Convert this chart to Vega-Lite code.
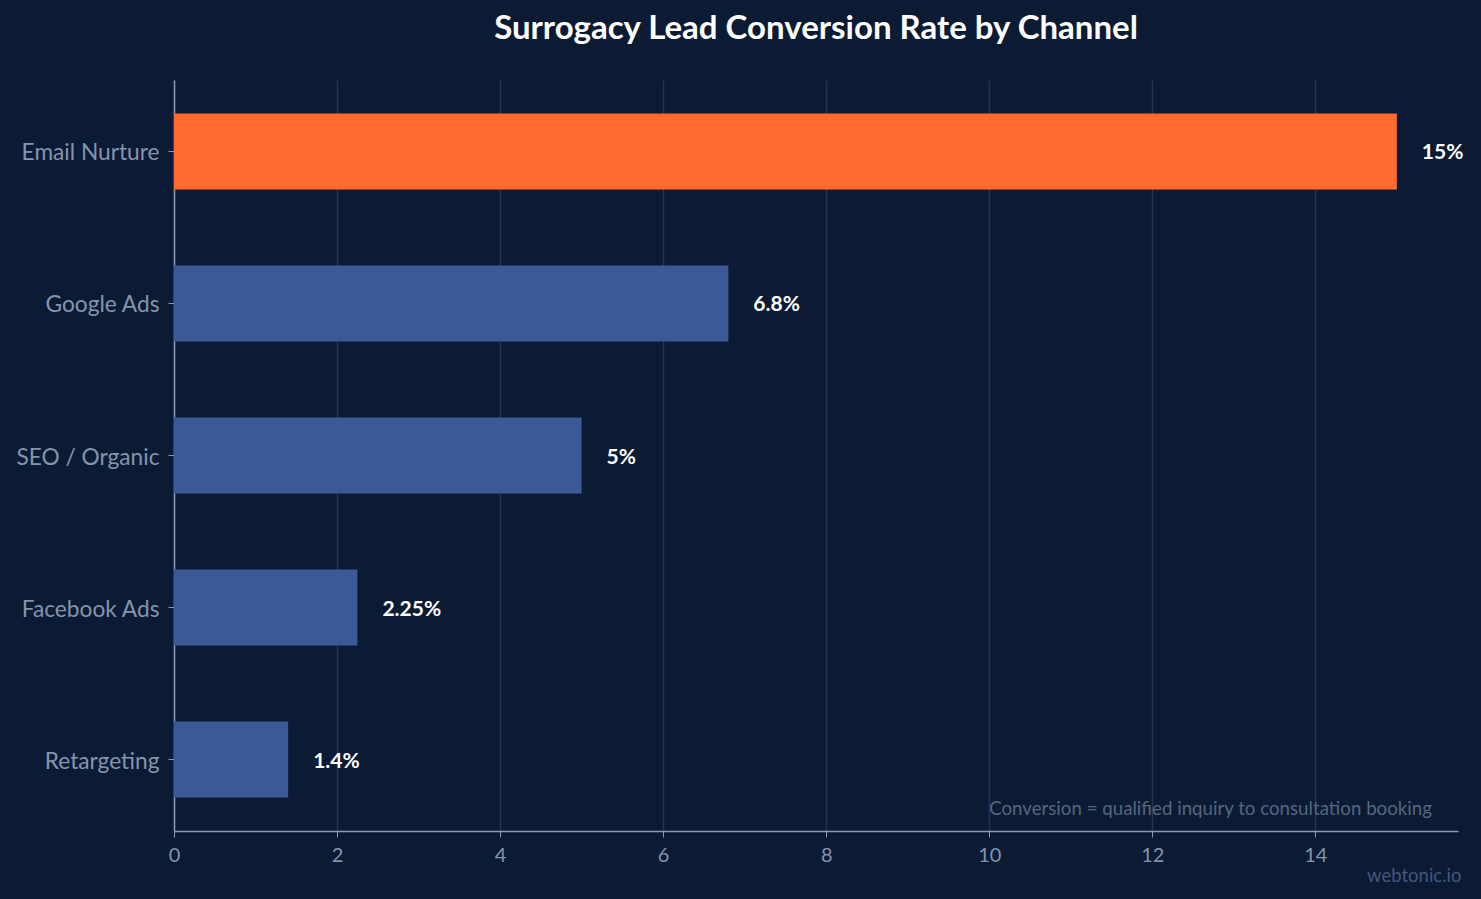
{
  "$schema": "https://vega.github.io/schema/vega-lite/v6.json",
  "width": 1284,
  "height": 751,
  "autosize": {"type": "none"},
  "padding": {"left": 174, "top": 80, "right": 23, "bottom": 68},
  "background": "#0c1b34",
  "config": {
    "font": "Lato",
    "view": {"stroke": null},
    "axis": {"labelFont": "Lato", "titleFont": "Lato"}
  },
  "title": {
    "text": "Surrogacy Lead Conversion Rate by Channel",
    "font": "Lato",
    "fontSize": 33,
    "fontWeight": "bold",
    "color": "#ffffff",
    "anchor": "middle",
    "offset": 34
  },
  "data": {
    "values": [
      {"channel": "Email Nurture", "rate": 15, "label": "15%"},
      {"channel": "Google Ads", "rate": 6.8, "label": "6.8%"},
      {"channel": "SEO / Organic", "rate": 5, "label": "5%"},
      {"channel": "Facebook Ads", "rate": 2.25, "label": "2.25%"},
      {"channel": "Retargeting", "rate": 1.4, "label": "1.4%"}
    ]
  },
  "encoding": {
    "y": {
      "field": "channel",
      "type": "nominal",
      "sort": null,
      "scale": {"paddingInner": 0.5, "paddingOuter": 0.22},
      "axis": {
        "title": null,
        "labelFontSize": 22.7,
        "labelColor": "#8494ad",
        "labelPadding": 9,
        "labelOffset": 2,
        "domainColor": "#8a9ab2",
        "domainWidth": 1.5,
        "tickColor": "#8a9ab2",
        "tickSize": 6,
        "grid": false
      }
    },
    "x": {
      "field": "rate",
      "type": "quantitative",
      "scale": {"domain": [0, 15.75], "nice": false},
      "axis": {
        "title": "webtonic.io",
        "titleFontSize": 18.5,
        "titleFontWeight": "normal",
        "titleColor": "#46567a",
        "titleAnchor": "end",
        "titleAlign": "right",
        "titleX": 1287,
        "titlePadding": 1,
        "values": [0, 2, 4, 6, 8, 10, 12, 14],
        "labelFlush": false,
        "labelFontSize": 20,
        "labelColor": "#8494ad",
        "labelPadding": 8,
        "domainColor": "#8a9ab2",
        "domainWidth": 1.5,
        "tickColor": "#8a9ab2",
        "tickSize": 6,
        "grid": true,
        "gridColor": "#253550",
        "gridWidth": 1.5
      }
    }
  },
  "layer": [
    {
      "mark": {"type": "bar"},
      "encoding": {
        "color": {
          "condition": {"test": "datum.channel === 'Email Nurture'", "value": "#ff6b2f"},
          "value": "#3c5997"
        }
      }
    },
    {
      "mark": {"type": "text", "align": "left", "baseline": "middle", "dx": 25, "dy": 2, "fontSize": 21, "fontWeight": "bold", "color": "#ffffff"},
      "encoding": {"text": {"field": "label"}}
    },
    {
      "data": {"values": [{"note": "Conversion = qualified inquiry to consultation booking", "x": 15.43, "y": "Retargeting"}]},
      "mark": {"type": "text", "align": "right", "baseline": "middle", "dy": 49, "fontSize": 18.7, "color": "#56667f"},
      "encoding": {
        "x": {"field": "x", "type": "quantitative"},
        "y": {"field": "y", "type": "nominal"},
        "text": {"field": "note"}
      }
    }
  ]
}
